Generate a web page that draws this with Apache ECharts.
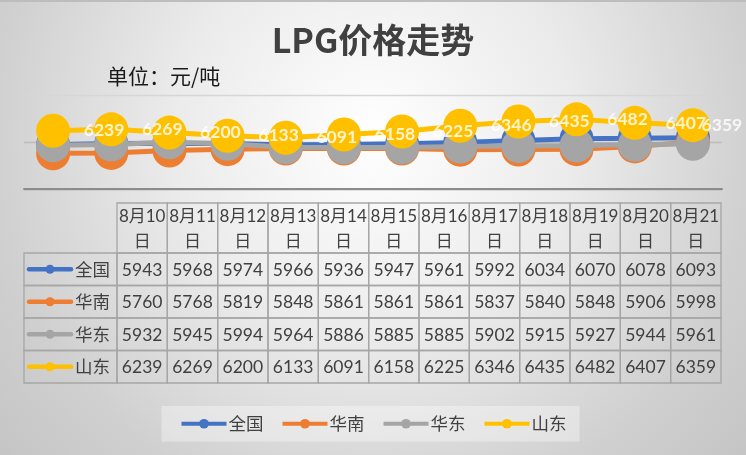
<!DOCTYPE html>
<html>
<head>
<meta charset="utf-8">
<script src="https://cdn.jsdelivr.net/npm/echarts@6/dist/echarts.min.js"></script>
<style>
html, body { margin: 0; padding: 0; }
#main { width: 746px; height: 455px; }
</style>
</head>
<body>
<div id="main"></div>
<script>
// categories
var dates = ['8月10日', '8月11日', '8月12日', '8月13日', '8月14日', '8月15日',
             '8月16日', '8月17日', '8月18日', '8月19日', '8月20日', '8月21日'];
var seriesNames = ['全国', '华南', '华东', '山东'];

// series values (元/吨)
var quanguo  = [5943, 5968, 5974, 5966, 5936, 5947, 5961, 5992, 6034, 6070, 6078, 6093];
var huanan   = [5760, 5768, 5819, 5848, 5861, 5861, 5861, 5837, 5840, 5848, 5906, 5998];
var huadong  = [5932, 5945, 5994, 5964, 5886, 5885, 5885, 5902, 5915, 5927, 5944, 5961];
var shandong = [6239, 6269, 6200, 6133, 6091, 6158, 6225, 6346, 6435, 6482, 6407, 6359];

var colors = ['#4472c4', '#ed7d31', '#a5a5a5', '#ffc000'];
var allValues = [quanguo, huanan, huadong, shandong];

var cjk = "'Noto Sans CJK SC', sans-serif";
var num = "Lato, 'Noto Sans CJK SC', sans-serif";
var textColor = '#404040';
var borderColor = '#a6a6a6';

var chart = echarts.init(document.getElementById('main'));

//the line series, drawn in the same order as the table rows
var lineSeries = seriesNames.map(function (name, i) {
	return {
		type: 'line',
		name: name,
		xAxisIndex: 0,
		yAxisIndex: 0,
		data: allValues[i],
		symbol: 'circle',
		symbolSize: 34,
		z: 2 + i,
		silent: true,
		lineStyle: { color: colors[i], width: 5 },
		itemStyle: { color: colors[i] },
		emphasis: { disabled: true }
	};
});

//data labels of 山东 sit one step to the right, the last one gets squeezed in
var labelData = shandong.map(function (v, i) {
	if (i == shandong.length - 1) {
		return { value: v, label: { offset: [29, 0] } };
	}
	return v;
});

//cells of the data table
var cellData = [];
allValues.forEach(function (arr, row) {
	arr.forEach(function (v, col) {
		cellData.push([col, row, v]);
	});
});
var headerData = dates.map(function (d, i) { return [i, 0.5]; });
var rowHeadData = seriesNames.map(function (n, i) { return [0.5, i]; });

function renderCell(params, api) {
	var c = api.coord([api.value(0), api.value(1)]);
	var s = api.size([1, 1]);
	return {
		type: 'group',
		children: [
			{ type: 'rect', shape: { x: c[0] - s[0] / 2, y: c[1] - s[1] / 2, width: s[0], height: s[1] },
			  style: { fill: 'rgba(255,255,255,0)', stroke: borderColor, lineWidth: 1.3 } },
			{ type: 'text', style: { text: String(api.value(2)), x: c[0], y: c[1] + 1, align: 'center', verticalAlign: 'middle',
			  fill: textColor, fontSize: 17.5, fontFamily: num } }
		]
	};
}

function renderHeader(params, api) {
	var i = api.value(0);
	var top = api.coord([i, 1]);
	var bottom = api.coord([i, 0]);
	var w = api.size([1, 0])[0];
	var d = dates[i];
	return {
		type: 'group',
		children: [
			{ type: 'rect', shape: { x: top[0] - w / 2, y: top[1], width: w, height: bottom[1] - top[1] },
			  style: { fill: 'rgba(255,255,255,0)', stroke: borderColor, lineWidth: 1.3 } },
			{ type: 'text', style: { text: d.slice(0, -1) + '\n' + d.slice(-1), x: top[0], y: (top[1] + bottom[1]) / 2 + 1,
			  align: 'center', verticalAlign: 'middle', lineHeight: 25, fill: textColor, fontSize: 17, fontFamily: num } }
		]
	};
}

function renderRowHead(params, api) {
	var r = api.value(1);
	var left = api.coord([0, r]);
	var right = api.coord([1, r]);
	var h = api.size([0, 1])[1];
	var y = left[1];
	return {
		type: 'group',
		children: [
			{ type: 'rect', shape: { x: left[0], y: y - h / 2, width: right[0] - left[0], height: h },
			  style: { fill: 'rgba(255,255,255,0)', stroke: borderColor, lineWidth: 1.3 } },
			{ type: 'line', shape: { x1: left[0] + 5, y1: y, x2: left[0] + 47, y2: y },
			  style: { stroke: colors[r], lineWidth: 4.5, lineCap: 'round' } },
			{ type: 'circle', shape: { cx: left[0] + 26, cy: y, r: 4.5 }, style: { fill: colors[r] } },
			{ type: 'text', style: { text: seriesNames[r], x: left[0] + 51, y: y, align: 'left', verticalAlign: 'middle',
			  fill: textColor, fontSize: 17.5, fontFamily: cjk } }
		]
	};
}

var option = {
	animation: false,
	backgroundColor: '#d0d0d0',
	graphic: [
		{ type: 'rect', z: -10, left: 0, top: 0, shape: { width: 746, height: 455 },
		  style: { fill: { type: 'radial', x: 0.5, y: 0.3, r: 1.1,
			colorStops: [{ offset: 0, color: '#ffffff' }, { offset: 0.4, color: '#ebebeb' },
						 { offset: 0.76, color: '#d0d0d0' }, { offset: 1, color: '#c4c4c4' }] } } },
		{ type: 'rect', z: -9, left: 0, top: 0, shape: { width: 746, height: 2 }, style: { fill: '#bdbdbd' } }
	],
	title: [
		{ text: 'LPG价格走势', left: 'center', top: 23, padding: 0,
		  textStyle: { fontSize: 34, fontWeight: 'bold', color: textColor, fontFamily: cjk } },
		{ text: '单位：元/吨', left: 107, top: 66, padding: 0,
		  textStyle: { fontSize: 21, fontWeight: 'normal', color: '#1a1a1a', fontFamily: cjk } }
	],
	legend: {
		data: seriesNames,
		left: 'center',
		top: 406,
		padding: [9, 13, 9, 18],
		backgroundColor: 'rgba(255,255,255,0.35)',
		itemWidth: 45,
		itemHeight: 12,
		itemGap: 17,
		lineStyle: { width: 4 },
		selectedMode: false,
		textStyle: { fontSize: 17.5, color: textColor, fontFamily: cjk, padding: [0, 0, 0, -3] }
	},
	grid: [
		{ left: 24, right: 24, top: 95, height: 94 },
		{ left: 117, right: 25, top: 203, height: 50 },
		{ left: 117, right: 25, top: 253, height: 130 },
		{ left: 24, width: 93, top: 253, height: 130 }
	],
	xAxis: [
		{ gridIndex: 0, type: 'category', data: dates, boundaryGap: true,
		  axisLine: { lineStyle: { color: '#8c8c8c', width: 2 } },
		  axisTick: { show: false }, axisLabel: { show: false } },
		{ gridIndex: 1, type: 'category', data: dates, show: false },
		{ gridIndex: 2, type: 'category', data: dates, show: false },
		{ gridIndex: 3, type: 'value', min: 0, max: 1, show: false }
	],
	yAxis: [
		{ gridIndex: 0, type: 'value', min: 5000, max: 7000, interval: 1000,
		  axisLine: { show: false }, axisTick: { show: false }, axisLabel: { show: false },
		  splitLine: { lineStyle: { color: ['#999999', '#bdbdbd', '#d6d6d6'], width: 1.3 } } },
		{ gridIndex: 1, type: 'value', min: 0, max: 1, show: false },
		{ gridIndex: 2, type: 'category', data: seriesNames, inverse: true, show: false },
		{ gridIndex: 3, type: 'category', data: seriesNames, inverse: true, show: false }
	],
	series: lineSeries.concat([
		{
			type: 'scatter',
			name: '山东标签',
			xAxisIndex: 0,
			yAxisIndex: 0,
			data: labelData,
			symbolSize: 1,
			z: 10,
			silent: true,
			itemStyle: { color: 'rgba(0,0,0,0)' },
			label: { show: true, position: 'inside', offset: [51, 0], color: '#ffffff',
					 fontSize: 17.5, fontWeight: 'bold', fontFamily: num }
		},
		{ type: 'custom', coordinateSystem: 'cartesian2d', xAxisIndex: 1, yAxisIndex: 1,
		  data: headerData, renderItem: renderHeader, silent: true },
		{ type: 'custom', coordinateSystem: 'cartesian2d', xAxisIndex: 2, yAxisIndex: 2,
		  data: cellData, renderItem: renderCell, silent: true },
		{ type: 'custom', coordinateSystem: 'cartesian2d', xAxisIndex: 3, yAxisIndex: 3,
		  data: rowHeadData, renderItem: renderRowHead, silent: true }
	])
};

chart.setOption(option);
</script>
</body>
</html>
